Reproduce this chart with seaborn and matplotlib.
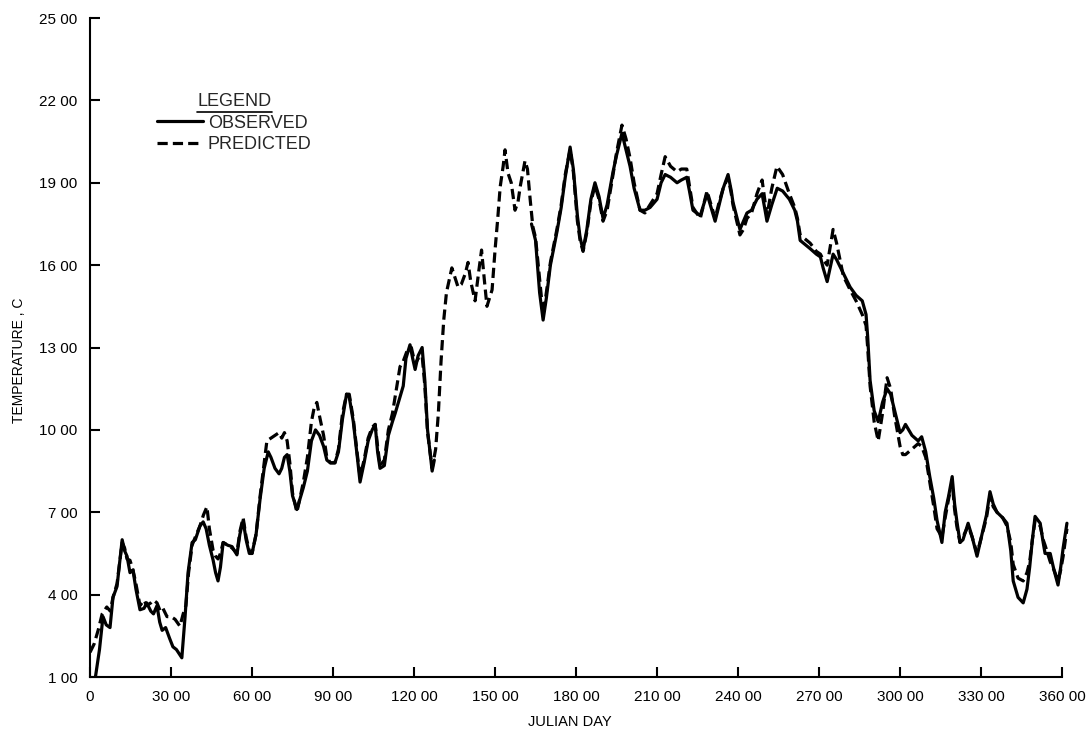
import matplotlib
matplotlib.use("Agg")
import matplotlib.pyplot as plt
import seaborn as sns
import pandas as pd
import numpy as np
from matplotlib.lines import Line2D

# ---------------- data ----------------
obs_day_a = [2, 3.5, 4.8, 6, 7.4, 8.5, 10, 11.9, 12.8, 13.7, 14.8, 15.9, 17, 18.5, 20, 21,
             22.5, 23.5, 24.8, 25.8, 26.7, 28, 29.5, 30.7, 32, 33, 34, 35.2, 36.3, 37.8, 39,
             40.7, 41.9, 43, 44.2, 45.6, 46.5, 47.4, 48.3, 49.3, 51, 52.6, 53.5, 54.4, 55.5,
             56.7, 57.8, 59, 60, 61.5, 63, 64.5, 66, 67, 68.5, 70, 71, 72, 73, 74, 75, 76.6,
             77.5, 79, 80.5, 82, 83.5, 85, 86.5, 87.7, 89, 90.7, 92, 93.5, 95, 96, 97.5, 99,
             100, 101.5, 103, 104.5, 105.6, 106.5, 107.4, 109, 110.5, 112, 113, 114.8, 116,
             117, 118.5, 119.5, 120.4, 121.5, 123, 124, 125, 126.7, 127.5]
obs_temp_a = [1.0, 2.0, 3.2, 2.9, 2.8, 3.9, 4.3, 6.0, 5.6, 5.4, 4.8, 4.9, 4.2, 3.45, 3.5, 3.7,
              3.4, 3.3, 3.6, 3.0, 2.7, 2.8, 2.4, 2.1, 2.0, 1.85, 1.7, 3.2, 4.8, 5.9, 6.0,
              6.5, 6.65, 6.4, 5.8, 5.25, 4.8, 4.5, 5.0, 5.9, 5.8, 5.75, 5.6, 5.45, 6.2,
              6.7, 6.0, 5.5, 5.5, 6.2, 7.5, 8.6, 9.2, 9.0, 8.6, 8.4, 8.6, 9.0, 9.1, 8.5, 7.6, 7.1,
              7.4, 7.9, 8.5, 9.6, 10.0, 9.8, 9.4, 8.9, 8.8, 8.8, 9.2, 10.4, 11.3, 11.2, 10.3, 9.0,
              8.1, 8.8, 9.6, 10.0, 10.2, 9.2, 8.6, 8.7, 9.8, 10.3, 10.6, 11.2, 11.6,
              12.6, 13.1, 12.6, 12.2, 12.7, 13.0, 11.8, 10.0, 8.5, 8.9]

obs_day_b = [163.5, 165, 166.5, 167.8, 169, 170.5, 172.9, 174.5, 176, 177.8, 179, 180.5, 181.5,
             182.6, 184, 185.5, 187, 188.5, 190, 191.5, 193.7, 195, 197, 198.5, 200, 201.5,
             203.7, 205.5, 207.4, 210, 211.5, 213, 215, 217.4, 219, 221, 222, 223.3, 226,
             228.5, 230, 231.5, 233, 234.5, 236.3, 237.5, 238.1, 240.7, 242, 243.3, 245, 247,
             248.9, 250, 250.7, 252.5, 254.5, 256.5, 259, 261, 262, 263, 266.7, 269, 270.5,
             271.5, 273, 275.2, 276.5, 279, 281.5, 283.7, 286, 287.4, 288, 288.9, 290.4, 291.9,
             293.5, 295.2, 296.5, 298, 300, 301, 302, 304.4, 306.7, 308, 309.5, 311, 312.5,
             313.7, 315.5, 316.7, 318, 319.3, 320.2, 321, 322.2, 323.3, 325.2, 326.7, 328.5,
             330.7, 332, 333.3, 334.5, 335.9, 338, 339.6, 341, 341.9, 343.7, 345.6, 347, 348,
             349, 350, 351.9, 353, 353.7, 355.6, 357, 358.5, 359.5, 360.4, 361.8]
obs_temp_b = [17.5, 16.9, 15.0, 14.0, 14.8, 16.0, 17.2, 18.1, 19.2, 20.3, 19.5, 17.8, 17.0,
              16.55, 17.3, 18.4, 19.0, 18.5, 17.7, 18.2, 19.4, 20.0, 20.8, 20.2, 19.6, 18.8,
              18.0, 18.0, 18.1, 18.4, 19.0, 19.3, 19.2, 19.0, 19.1, 19.2, 18.7, 18.0, 17.8,
              18.6, 18.1, 17.6, 18.2, 18.8, 19.3, 18.7, 18.3, 17.3, 17.6, 17.9, 18.0, 18.4,
              18.6, 18.0, 17.6, 18.2, 18.8, 18.7, 18.4, 18.0, 17.6, 16.9, 16.6, 16.4, 16.3,
              15.9, 15.4, 16.4, 16.2, 15.7, 15.2, 14.9, 14.7, 14.2, 13.4, 11.8, 10.7, 10.3,
              11.0, 11.5, 11.3, 10.7, 9.9, 10.0, 10.2, 9.8, 9.6, 9.75, 9.2, 8.3, 7.5,
              6.7, 5.9, 7.0, 7.6, 8.3, 7.3, 6.7, 5.9, 6.0, 6.6, 6.1, 5.4,
              6.35, 6.9, 7.75, 7.3, 7.0, 6.8, 6.6, 5.6, 4.5, 3.9, 3.7, 4.2, 5.0,
              6.0, 6.85, 6.6, 5.9, 5.5, 5.5, 4.9, 4.35, 5.0, 5.7, 6.6]

pred_day = [0, 1.5, 3, 4.5, 6.2, 7.5, 8.5, 10, 11.9, 12.8, 13.7, 14.8, 15.9, 17, 18.5, 20, 21,
            22.5, 23.5, 24.8, 26, 27, 28.5, 30, 31.5, 33.3, 34.5, 35.5, 36.5, 37.8, 39, 40.7,
            42, 43.3, 44.2, 45.6, 46.5, 47.4, 48.3, 49.3, 51, 52.6, 53.5, 54.4, 55.5, 56.7,
            57.8, 59, 60, 61.5, 63, 64.5, 65.5, 67, 68.5, 70, 71, 72, 73, 74, 75, 76.6, 77.5,
            79, 80.5, 82, 83, 84, 85, 86.5, 87.7, 89, 90.7, 92, 93.5, 95, 96, 97.5, 99, 100,
            101.5, 103, 104.5, 105.6, 106.5, 107.4, 109, 110.5, 112, 113, 114.8, 116, 117.5,
            119, 120.4, 121.5, 123, 124, 125, 126.7, 128, 129, 130, 131, 132, 134, 135, 136.3,
            137.5, 139, 140, 141, 142.6, 144, 145, 146, 147, 148.9, 150, 151, 151.9, 153,
            153.7, 154.8, 156, 157.4, 158.5, 159.3, 161.1, 162, 163, 164, 165, 166, 167,
            167.8, 169, 170.5, 172.9, 174.5, 176, 177.8, 179, 180.5, 181.5, 182.6, 184, 185.5,
            187, 188.5, 190, 191.5, 193.7, 195, 197, 198.5, 200, 201.5, 203.7, 205.5, 207.4,
            210, 211.5, 213, 215, 217.4, 219, 221, 222, 223.3, 226, 228.5, 230, 231.5, 233,
            234.5, 236.3, 237.5, 238.1, 240.7, 242, 243.3, 245, 247, 248.9, 250, 250.7, 252.5,
            254.4, 256.5, 259, 261, 262, 263, 266.7, 269, 270.5, 271.5, 273, 275.2, 276.5,
            279, 281.5, 283.7, 286, 287.4, 288, 288.9, 290.4, 291.9, 293.5, 295.2, 296.5, 298,
            300, 301, 302, 304.4, 306.7, 308, 309.5, 311, 312.5, 313.7, 315.5, 316.7, 318,
            319.3, 320.2, 321, 322.2, 323.3, 325.2, 326.7, 328.5, 330.7, 332, 333.3, 334.5,
            335.9, 338, 339.6, 341, 341.9, 343.7, 345.6, 347, 348, 349, 350, 351.9, 353,
            353.7, 355.6, 357, 358.5, 359.5, 360.4, 361.8]
pred_temp = [1.9, 2.2, 2.7, 3.3, 3.55, 3.4, 3.9, 4.4, 5.9, 5.7, 5.3, 5.25, 4.9, 4.4, 3.6, 3.8, 3.6,
             3.7, 3.8, 3.7, 3.4, 3.5, 3.2, 3.2, 3.1, 2.85, 3.3, 3.6, 4.8, 5.8, 6.1, 6.5,
             6.9, 7.2, 6.4, 5.6, 5.4, 5.3, 5.5, 5.9, 5.8, 5.7, 5.6, 5.5, 6.3, 6.8,
             6.1, 5.6, 5.5, 6.2, 7.6, 8.8, 9.6, 9.7, 9.8, 9.9, 9.7, 9.9, 9.6, 8.8, 7.7, 7.0, 7.4,
             8.1, 9.0, 10.3, 10.8, 11.0, 10.5, 9.8, 9.0, 8.8, 8.8, 9.3, 10.6, 11.3, 11.3, 10.4, 9.1, 8.3,
             8.9, 9.7, 10.1, 10.2, 9.4, 8.7, 8.9, 10.0, 10.6, 11.2, 12.3, 12.5, 12.9,
             13.0, 12.4, 12.6, 12.7, 11.6, 9.9, 8.6, 9.3, 10.6, 12.5, 14.0, 15.0, 15.9, 15.6, 15.2,
             15.3, 15.7, 16.1, 15.4, 14.7, 15.8, 16.55, 15.5, 14.5, 15.1, 16.55, 17.7, 18.85, 19.6,
             20.2, 19.35, 19.0, 18.0, 18.3, 18.85, 19.8, 19.5, 18.4, 17.4, 17.0, 16.0, 15.0,
             14.2, 15.0, 16.1, 17.3, 18.2, 19.3, 20.2, 19.4, 17.6, 16.9, 16.5, 17.2, 18.3,
             18.9, 18.4, 17.6, 18.0, 19.3, 20.1, 21.1, 20.6, 19.9, 19.0, 18.0, 17.9, 18.2,
             18.6, 19.3, 19.95, 19.6, 19.4, 19.5, 19.5, 18.9, 18.1, 17.7, 18.7, 18.2, 17.7, 18.3,
             18.8, 19.2, 18.6, 18.2, 17.1, 17.3, 17.7, 17.9, 18.6, 19.1, 18.3, 17.8, 18.8,
             19.6, 19.3, 18.6, 18.1, 17.7, 17.1, 16.8, 16.5, 16.4, 16.2, 16.0, 17.3, 16.8,
             15.6, 15.1, 14.7, 14.2, 13.8, 13.0, 11.6, 10.3, 9.6, 10.6, 11.9, 11.5, 10.5,
             9.4, 9.1, 9.1, 9.3, 9.5, 9.4, 9.0, 8.1, 7.2, 6.4, 6.1, 6.8, 7.5,
             8.1, 7.1, 6.5, 5.9, 6.1, 6.5, 6.1, 5.5, 6.3, 6.8, 7.6, 7.2,
             7.0, 6.8, 6.5, 5.9, 5.1, 4.6, 4.5, 4.8, 5.2, 6.0, 6.7, 6.5, 6.0,
             5.8, 5.2, 4.9, 4.5, 4.9, 5.4, 6.4]

x_ticks = [0, 30, 60, 90, 120, 150, 180, 210, 240, 270, 300, 330, 360]
x_tick_labels = ["0", "30 00", "60 00", "90 00", "120 00", "150 00", "180 00", "210 00",
                 "240 00", "270 00", "300 00", "330 00", "360 00"]
y_ticks = [1, 4, 7, 10, 13, 16, 19, 22, 25]
y_tick_labels = ["1 00", "4 00", "7 00", "10 00", "13 00", "16 00", "19 00", "22 00", "25 00"]

# ---------------- build frame ----------------
df = pd.concat([
    pd.DataFrame({"day": obs_day_a, "temp": obs_temp_a, "series": "OBSERVED", "seg": "o1"}),
    pd.DataFrame({"day": obs_day_b, "temp": obs_temp_b, "series": "OBSERVED", "seg": "o2"}),
    pd.DataFrame({"day": pred_day, "temp": pred_temp, "series": "PREDICTED", "seg": "p1"}),
], ignore_index=True)

sns.set_theme(style="ticks")
plt.rcParams["font.family"] = ["Liberation Sans", "DejaVu Sans"]

fig = plt.figure(figsize=(10.86, 7.29), dpi=100)
ax = fig.add_axes([0.0829, 0.0713, 0.9075, 0.904])

sns.lineplot(data=df, x="day", y="temp", style="series", units="seg", estimator=None,
             sort=False, color="black", linewidth=2.3,
             dashes={"OBSERVED": "", "PREDICTED": (3.2, 1.6)},
             style_order=["OBSERVED", "PREDICTED"], ax=ax, legend=False)

ax.set_xlim(0, 365)
ax.set_ylim(1, 25)
ax.set_xticks(x_ticks)
ax.set_xticklabels(x_tick_labels)
ax.set_yticks(y_ticks)
ax.set_yticklabels(y_tick_labels)
ax.tick_params(axis="both", direction="in", length=7, width=1.5, colors="black",
               labelsize=11, pad=9)
ax.tick_params(axis="x", pad=9)
for s in ["top", "right"]:
    ax.spines[s].set_visible(False)
for s in ["left", "bottom"]:
    ax.spines[s].set_linewidth(1.5)
    ax.spines[s].set_color("black")
ax.spines["bottom"].set_bounds(0, 360)

ax.set_xlabel("JULIAN DAY", fontsize=10.5, color="black")
ax.set_ylabel("TEMPERATURE , C", fontsize=10, color="black")
ax.xaxis.set_label_coords(0.487, -0.058)
ax.yaxis.set_label_coords(-0.065, 0.48)

handles = [Line2D([], [], color="black", lw=2.3),
           Line2D([], [], color="black", lw=2.3, dashes=(3.2, 1.6))]
leg = ax.legend(handles, ["OBSERVED", "PREDICTED"], title="LEGEND", frameon=False,
                loc="upper left", bbox_to_anchor=(0.061, 0.897), fontsize=13,
                title_fontsize=13, handlelength=2.5, handletextpad=0.3,
                labelspacing=0.25, borderaxespad=0)
leg._legend_box.align = "center"

fig.canvas.draw()
tb = leg.get_title().get_window_extent()
fig.add_artist(Line2D([tb.x0 / fig.bbox.width, tb.x1 / fig.bbox.width],
                      [(tb.y0 - 2) / fig.bbox.height, (tb.y0 - 2) / fig.bbox.height],
                      color="black", lw=1.2, transform=fig.transFigure))

fig.savefig("out.png", dpi=100, facecolor="white")
